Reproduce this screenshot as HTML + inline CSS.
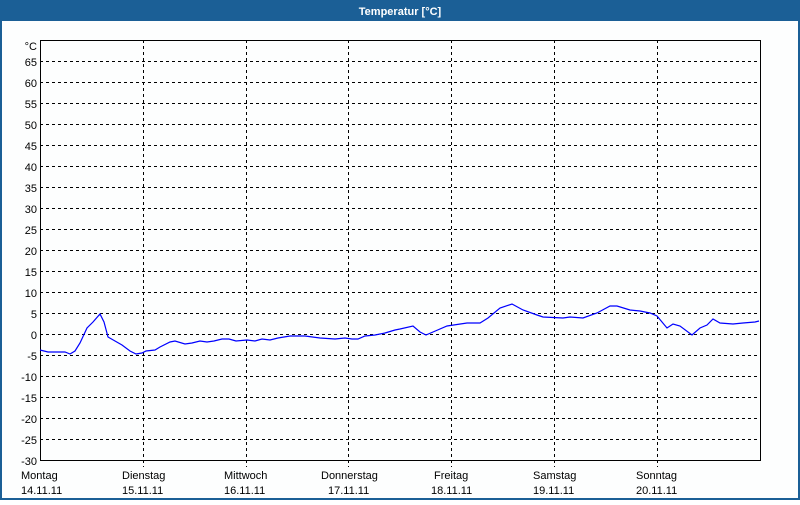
<!DOCTYPE html>
<html><head><style>
body{margin:0;width:800px;height:500px;overflow:hidden;background:#fff;font-family:"Liberation Sans",sans-serif;}
</style></head><body>
<svg width="800" height="500" xmlns="http://www.w3.org/2000/svg" font-family="Liberation Sans, sans-serif" font-size="11">
<rect x="0" y="0" width="800" height="500" fill="#1b5f96"/>
<rect x="2" y="21" width="796" height="477" fill="#fdfefe"/>
<text x="400" y="15" fill="#fff" font-weight="bold" text-anchor="middle" font-size="11">Temperatur [°C]</text>
<g stroke="#000" stroke-width="1" stroke-dasharray="3,3" fill="none">
<path d="M40 61.5H760M40 82.5H760M40 103.5H760M40 124.5H760M40 145.5H760M40 166.5H760M40 187.5H760M40 208.5H760M40 229.5H760M40 250.5H760M40 271.5H760M40 292.5H760M40 313.5H760M40 334.5H760M40 355.5H760M40 376.5H760M40 397.5H760M40 418.5H760M40 439.5H760"/>
<path d="M143.5 40V467M246.5 40V467M348.5 40V467M451.5 40V467M554.5 40V467M657.5 40V467"/>
</g>
<rect x="40.5" y="40.5" width="720" height="420" fill="none" stroke="#000"/>
<g fill="#000" text-anchor="end">
<text x="37" y="50">°C</text>
<text x="37" y="66">65</text><text x="37" y="87">60</text><text x="37" y="108">55</text><text x="37" y="129">50</text><text x="37" y="150">45</text><text x="37" y="171">40</text><text x="37" y="192">35</text><text x="37" y="213">30</text><text x="37" y="234">25</text><text x="37" y="255">20</text><text x="37" y="276">15</text><text x="37" y="297">10</text><text x="37" y="318">5</text><text x="37" y="339">0</text><text x="37" y="360">-5</text><text x="37" y="381">-10</text><text x="37" y="402">-15</text><text x="37" y="423">-20</text><text x="37" y="444">-25</text><text x="37" y="465">-30</text>
</g>
<g fill="#000">
<text x="21" y="479">Montag</text><text x="21" y="494">14.11.11</text>
<text x="122" y="479">Dienstag</text><text x="122" y="494">15.11.11</text>
<text x="224" y="479">Mittwoch</text><text x="224" y="494">16.11.11</text>
<text x="321" y="479">Donnerstag</text><text x="328" y="494">17.11.11</text>
<text x="434" y="479">Freitag</text><text x="431" y="494">18.11.11</text>
<text x="533" y="479">Samstag</text><text x="533" y="494">19.11.11</text>
<text x="636" y="479">Sonntag</text><text x="636" y="494">20.11.11</text>
</g>
<polyline fill="none" stroke="#0000ff" stroke-width="1.2" points="40,350 48,352 65,352 70,354 75,351 80,343 87,328 93,322 100,314 104,322 108,337 115,341 122,345 130,351 136,354 142,353 146,351 155,350 160,347 170,342 175,341 185,344 192,343 200,341 207,342 214,341 222,339 229,339 236,341 247,340 255,341 262,339 270,340 278,338 290,336 305,336 320,338 335,339 345,338 352,339 358,339 365,336 375,335 385,333 395,330 400,329 413,326 420,332 426,335 433,332 447,326 467,323 480,323 488,318 500,308 512,304 523,310 537,315 543,317 563,318 570,317 583,318 597,313 610,306 617,306 630,310 640,311 650,313 657,316 667,328 673,324 680,326 692,335 700,328 707,325 713,319 720,323 733,324 743,323 755,322 759,321"/>
</svg>
</body></html>
